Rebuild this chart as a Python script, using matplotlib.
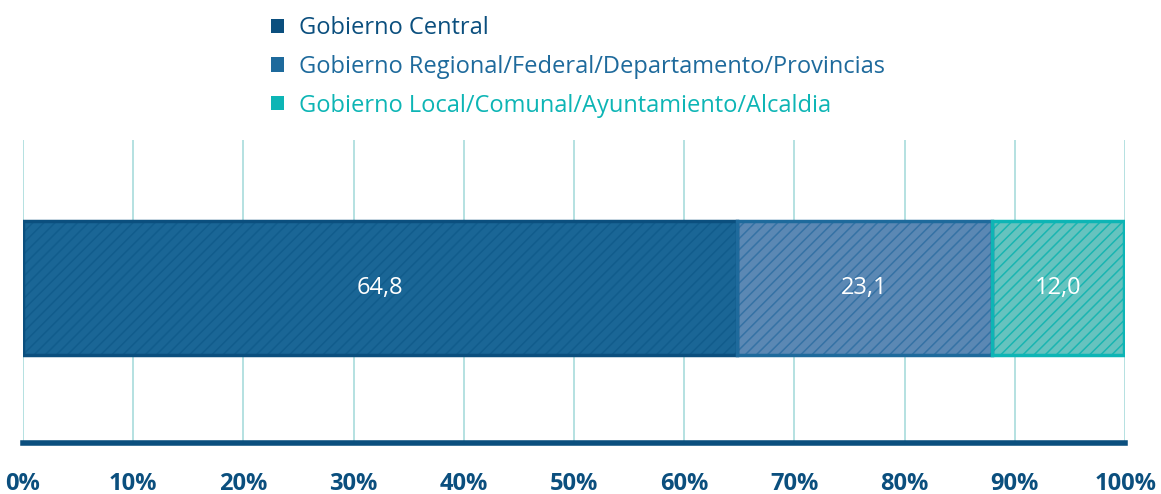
import matplotlib
matplotlib.use("Agg")
import matplotlib.pyplot as plt
from matplotlib.patches import Patch

plt.rcParams['font.family'] = ['Open Sans', 'DejaVu Sans']
plt.rcParams['hatch.linewidth'] = 1.1

categories = ["Gobierno Central",
              "Gobierno Regional/Federal/Departamento/Provincias",
              "Gobierno Local/Comunal/Ayuntamiento/Alcaldia"]
values = [64.8, 23.1, 12.0]
value_labels = ["64,8", "23,1", "12,0"]
tick_values = [0, 10, 20, 30, 40, 50, 60, 70, 80, 90, 100]
tick_labels = ["0%", "10%", "20%", "30%", "40%", "50%", "60%", "70%", "80%", "90%", "100%"]

fill_colors = ["#1a6696", "#5b88b4", "#66c3bf"]
hatch_colors = ["#115c8c", "#3572a5", "#1ab5b1"]
border_colors = ["#0b4f7e", "#1e6a9c", "#0db5b5"]
legend_colors = ["#0b4f7e", "#1e6a9c", "#0db5b5"]
dark = "#0b4f7e"

fig = plt.figure(figsize=(11.61, 4.94), dpi=100)
ax = fig.add_axes([0.0198, 0.103, 0.9493, 0.614])

left = 0
for i, v in enumerate(values):
    ax.barh(0.512, v, left=left, height=0.442, color=fill_colors[i], linewidth=0, zorder=2)
    ax.barh(0.512, v, left=left, height=0.442, facecolor="none", edgecolor=hatch_colors[i],
            hatch="///", linewidth=0, zorder=3)
    ax.barh(0.512, v, left=left, height=0.442, facecolor="none", edgecolor=border_colors[i],
            linewidth=2.5, zorder=4)
    ax.text(left + v / 2, 0.512, value_labels[i], ha="center", va="center",
            color="white", fontsize=17, zorder=5)
    left += v

ax.set_xlim(0, 100)
ax.set_ylim(0, 1)
ax.set_xticks(tick_values)
ax.set_xticklabels(tick_labels, fontsize=17, fontweight="bold", color=dark)
ax.tick_params(axis="x", length=0, pad=21)
ax.set_yticks([])
ax.grid(axis="x", color="#a8dcdc", linewidth=1.2, zorder=0)
for s in ["top", "left", "right"]:
    ax.spines[s].set_visible(False)
ax.spines["bottom"].set_color(dark)
ax.spines["bottom"].set_linewidth(4)
ax.spines["bottom"].set_zorder(6)

handles = [Patch(facecolor=c, edgecolor="none") for c in legend_colors]
leg = fig.legend(handles, categories, loc="upper left", bbox_to_anchor=(0.2155, 1.01),
                 frameon=False, fontsize=17, handlelength=0.55, handleheight=0.55,
                 handletextpad=0.6, labelspacing=0.62, labelcolor=legend_colors)

fig.savefig("out.png", dpi=100)
